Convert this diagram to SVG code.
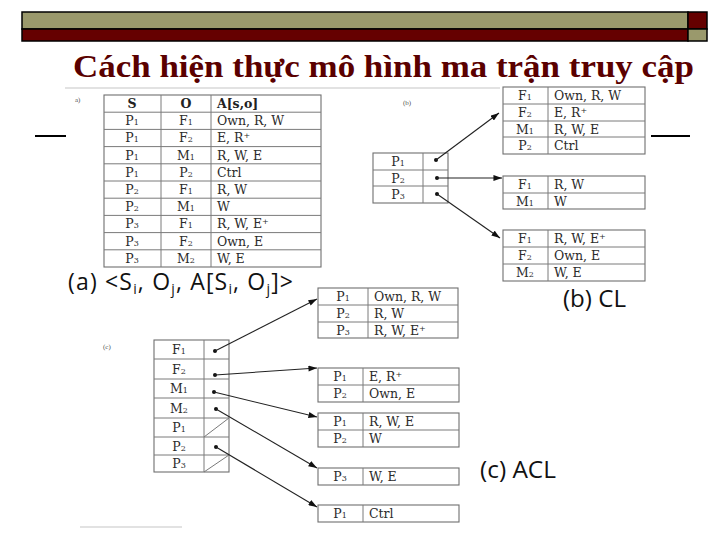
<svg xmlns="http://www.w3.org/2000/svg" width="720" height="540" viewBox="0 0 720 540">
<defs>
<style>
.t{font-family:"DejaVu Serif","Liberation Serif",serif;font-size:12.5px;fill:#2b2b2b}
.th{font-family:"DejaVu Serif","Liberation Serif",serif;font-size:12.5px;fill:#222;font-weight:bold}
.c{text-anchor:middle}
.box{fill:#fff;stroke:#6f6f6f;stroke-width:1.1}
.ln{stroke:#7a7a7a;stroke-width:1}
.lab{font-family:"Open Sans","Noto Sans","DejaVu Sans",sans-serif;font-size:23px;fill:#111}
.sub{font-size:14px}
.sm{font-family:"Liberation Serif",serif;font-size:7px;fill:#555}
.con{stroke:#222;stroke-width:1.1;fill:none}
.dot{fill:#111}
</style>
<marker id="ah" viewBox="0 0 10 7" refX="10" refY="3.5" markerWidth="9" markerHeight="6" markerUnits="userSpaceOnUse" orient="auto"><path d="M0,0 L10,3.5 L0,7 z" fill="#111"/></marker>
</defs>
<rect width="720" height="540" fill="#fff"/>
<g id="header-bar">
<rect x="22" y="12" width="666" height="17" fill="#9a996c" stroke="#000" stroke-width="1.5"/>
<rect x="22" y="29" width="666" height="12" fill="#650000" stroke="#000" stroke-width="1.5"/>
<rect x="688" y="12" width="19" height="17" fill="#650000" stroke="#000" stroke-width="1.5"/>
<rect x="688" y="29" width="19" height="12" fill="#9a996c" stroke="#000" stroke-width="1.5"/>
</g>
<text id="title" x="73" y="77" textLength="621" lengthAdjust="spacingAndGlyphs" style="font-family:'Liberation Serif','Times New Roman',serif;font-size:32px;font-weight:bold;fill:#5a0000">Cách hiện thực mô hình ma trận truy cập</text>
<g id="slide-rule">
<line x1="35" y1="136" x2="66" y2="136" stroke="#000" stroke-width="2"/>
<line x1="651" y1="136" x2="690" y2="136" stroke="#000" stroke-width="2"/>
<line x1="65" y1="88" x2="500" y2="88" stroke="#e2e2e2" stroke-width="2"/>
<line x1="80" y1="527" x2="182" y2="527" stroke="#d8d8d8" stroke-width="1.5"/>
</g>

<g id="table-a">
<text class="sm" x="75" y="102">a)</text>
<rect class="box" x="104" y="95" width="217" height="172"/>
<line class="ln" x1="161" y1="95" x2="161" y2="267"/>
<line class="ln" x1="211" y1="95" x2="211" y2="267"/>
<line class="ln" x1="104" y1="112.2" x2="321" y2="112.2"/>
<line class="ln" x1="104" y1="129.4" x2="321" y2="129.4"/>
<line class="ln" x1="104" y1="146.6" x2="321" y2="146.6"/>
<line class="ln" x1="104" y1="163.8" x2="321" y2="163.8"/>
<line class="ln" x1="104" y1="181" x2="321" y2="181"/>
<line class="ln" x1="104" y1="198.2" x2="321" y2="198.2"/>
<line class="ln" x1="104" y1="215.4" x2="321" y2="215.4"/>
<line class="ln" x1="104" y1="232.6" x2="321" y2="232.6"/>
<line class="ln" x1="104" y1="249.8" x2="321" y2="249.8"/>
<text class="th c" x="132" y="108">S</text><text class="th c" x="186" y="108">O</text><text class="th" x="217" y="108">A[s,o]</text>
<text class="t c" x="132" y="125.2">P<tspan font-size="8">1</tspan></text><text class="t c" x="186" y="125.2">F<tspan font-size="8">1</tspan></text><text class="t" x="217" y="125.2">Own, R, W</text>
<text class="t c" x="132" y="142.4">P<tspan font-size="8">1</tspan></text><text class="t c" x="186" y="142.4">F<tspan font-size="8">2</tspan></text><text class="t" x="217" y="142.4">E, R<tspan font-size="8" baseline-shift="super">+</tspan></text>
<text class="t c" x="132" y="159.6">P<tspan font-size="8">1</tspan></text><text class="t c" x="186" y="159.6">M<tspan font-size="8">1</tspan></text><text class="t" x="217" y="159.6">R, W, E</text>
<text class="t c" x="132" y="176.8">P<tspan font-size="8">1</tspan></text><text class="t c" x="186" y="176.8">P<tspan font-size="8">2</tspan></text><text class="t" x="217" y="176.8">Ctrl</text>
<text class="t c" x="132" y="194">P<tspan font-size="8">2</tspan></text><text class="t c" x="186" y="194">F<tspan font-size="8">1</tspan></text><text class="t" x="217" y="194">R, W</text>
<text class="t c" x="132" y="211.2">P<tspan font-size="8">2</tspan></text><text class="t c" x="186" y="211.2">M<tspan font-size="8">1</tspan></text><text class="t" x="217" y="211.2">W</text>
<text class="t c" x="132" y="228.4">P<tspan font-size="8">3</tspan></text><text class="t c" x="186" y="228.4">F<tspan font-size="8">1</tspan></text><text class="t" x="217" y="228.4">R, W, E<tspan font-size="8" baseline-shift="super">+</tspan></text>
<text class="t c" x="132" y="245.6">P<tspan font-size="8">3</tspan></text><text class="t c" x="186" y="245.6">F<tspan font-size="8">2</tspan></text><text class="t" x="217" y="245.6">Own, E</text>
<text class="t c" x="132" y="262.8">P<tspan font-size="8">3</tspan></text><text class="t c" x="186" y="262.8">M<tspan font-size="8">2</tspan></text><text class="t" x="217" y="262.8">W, E</text>
</g>
<text id="label-a" class="lab" x="68" y="290" textLength="225" lengthAdjust="spacing">(a) &lt;S<tspan class="sub" baseline-shift="-4">i</tspan>, O<tspan class="sub" baseline-shift="-4">j</tspan>, A[S<tspan class="sub" baseline-shift="-4">i</tspan>, O<tspan class="sub" baseline-shift="-4">j</tspan>]&gt;</text>

<g id="cl-subjects">
<text class="sm" x="403" y="105">(b)</text>
<rect class="box" x="373" y="153" width="75" height="50"/>
<line class="ln" x1="423" y1="153" x2="423" y2="203"/>
<line class="ln" x1="373" y1="170" x2="448" y2="170"/>
<line class="ln" x1="373" y1="186" x2="448" y2="186"/>
<text class="t c" x="398" y="166">P<tspan font-size="8">1</tspan></text>
<text class="t c" x="398" y="182.5">P<tspan font-size="8">2</tspan></text>
<text class="t c" x="398" y="199">P<tspan font-size="8">3</tspan></text>
</g>
<g id="cl-p1">
<rect class="box" x="503" y="87" width="142" height="67"/>
<line class="ln" x1="548" y1="87" x2="548" y2="154"/>
<line class="ln" x1="503" y1="104" x2="645" y2="104"/>
<line class="ln" x1="503" y1="121" x2="645" y2="121"/>
<line class="ln" x1="503" y1="137" x2="645" y2="137"/>
<text class="t c" x="525" y="100">F<tspan font-size="8">1</tspan></text><text class="t" x="554" y="100">Own, R, W</text>
<text class="t c" x="525" y="117">F<tspan font-size="8">2</tspan></text><text class="t" x="554" y="117">E, R<tspan font-size="8" baseline-shift="super">+</tspan></text>
<text class="t c" x="525" y="133.5">M<tspan font-size="8">1</tspan></text><text class="t" x="554" y="133.5">R, W, E</text>
<text class="t c" x="525" y="150">P<tspan font-size="8">2</tspan></text><text class="t" x="554" y="150">Ctrl</text>
</g>
<g id="cl-p2">
<rect class="box" x="503" y="176" width="142" height="33"/>
<line class="ln" x1="548" y1="176" x2="548" y2="209"/>
<line class="ln" x1="503" y1="193" x2="645" y2="193"/>
<text class="t c" x="525" y="189">F<tspan font-size="8">1</tspan></text><text class="t" x="554" y="189">R, W</text>
<text class="t c" x="525" y="205.5">M<tspan font-size="8">1</tspan></text><text class="t" x="554" y="205.5">W</text>
</g>
<g id="cl-p3">
<rect class="box" x="503" y="230" width="142" height="51"/>
<line class="ln" x1="548" y1="230" x2="548" y2="281"/>
<line class="ln" x1="503" y1="247" x2="645" y2="247"/>
<line class="ln" x1="503" y1="264" x2="645" y2="264"/>
<text class="t c" x="525" y="243">F<tspan font-size="8">1</tspan></text><text class="t" x="554" y="243">R, W, E<tspan font-size="8" baseline-shift="super">+</tspan></text>
<text class="t c" x="525" y="260">F<tspan font-size="8">2</tspan></text><text class="t" x="554" y="260">Own, E</text>
<text class="t c" x="525" y="277">M<tspan font-size="8">2</tspan></text><text class="t" x="554" y="277">W, E</text>
</g>
<text id="label-b" class="lab" x="563" y="307" textLength="63" lengthAdjust="spacingAndGlyphs">(b) CL</text>

<g id="acl-objects">
<text class="sm" x="103" y="349">(c)</text>
<rect class="box" x="154" y="340" width="75" height="132"/>
<line class="ln" x1="204" y1="340" x2="204" y2="472"/>
<line class="ln" x1="154" y1="359" x2="229" y2="359"/>
<line class="ln" x1="154" y1="379" x2="229" y2="379"/>
<line class="ln" x1="154" y1="398" x2="229" y2="398"/>
<line class="ln" x1="154" y1="418" x2="229" y2="418"/>
<line class="ln" x1="154" y1="437" x2="229" y2="437"/>
<line class="ln" x1="154" y1="455" x2="229" y2="455"/>
<line class="ln" x1="204" y1="437" x2="229" y2="418"/>
<line class="ln" x1="204" y1="472" x2="229" y2="455"/>
<text class="t c" x="179" y="354">F<tspan font-size="8">1</tspan></text>
<text class="t c" x="179" y="373.5">F<tspan font-size="8">2</tspan></text>
<text class="t c" x="179" y="393">M<tspan font-size="8">1</tspan></text>
<text class="t c" x="179" y="412.5">M<tspan font-size="8">2</tspan></text>
<text class="t c" x="179" y="432">P<tspan font-size="8">1</tspan></text>
<text class="t c" x="179" y="450.5">P<tspan font-size="8">2</tspan></text>
<text class="t c" x="179" y="468">P<tspan font-size="8">3</tspan></text>
</g>
<g id="acl-f1">
<rect class="box" x="318" y="288" width="140" height="50"/>
<line class="ln" x1="368" y1="288" x2="368" y2="338"/>
<line class="ln" x1="318" y1="305" x2="458" y2="305"/>
<line class="ln" x1="318" y1="322" x2="458" y2="322"/>
<text class="t c" x="343" y="301">P<tspan font-size="8">1</tspan></text><text class="t" x="374" y="301">Own, R, W</text>
<text class="t c" x="343" y="318">P<tspan font-size="8">2</tspan></text><text class="t" x="374" y="318">R, W</text>
<text class="t c" x="343" y="334.5">P<tspan font-size="8">3</tspan></text><text class="t" x="374" y="334.5">R, W, E<tspan font-size="8" baseline-shift="super">+</tspan></text>
</g>
<g id="acl-f2">
<rect class="box" x="318" y="368" width="141" height="34"/>
<line class="ln" x1="363" y1="368" x2="363" y2="402"/>
<line class="ln" x1="318" y1="385" x2="459" y2="385"/>
<text class="t c" x="340" y="381">P<tspan font-size="8">1</tspan></text><text class="t" x="369" y="381">E, R<tspan font-size="8" baseline-shift="super">+</tspan></text>
<text class="t c" x="340" y="398">P<tspan font-size="8">2</tspan></text><text class="t" x="369" y="398">Own, E</text>
</g>
<g id="acl-m1">
<rect class="box" x="318" y="413" width="141" height="34"/>
<line class="ln" x1="363" y1="413" x2="363" y2="447"/>
<line class="ln" x1="318" y1="430" x2="459" y2="430"/>
<text class="t c" x="340" y="426">P<tspan font-size="8">1</tspan></text><text class="t" x="369" y="426">R, W, E</text>
<text class="t c" x="340" y="443">P<tspan font-size="8">2</tspan></text><text class="t" x="369" y="443">W</text>
</g>
<g id="acl-m2">
<rect class="box" x="318" y="468" width="141" height="17"/>
<line class="ln" x1="363" y1="468" x2="363" y2="485"/>
<text class="t c" x="340" y="481">P<tspan font-size="8">3</tspan></text><text class="t" x="369" y="481">W, E</text>
</g>
<g id="acl-p2">
<rect class="box" x="318" y="505" width="141" height="17"/>
<line class="ln" x1="363" y1="505" x2="363" y2="522"/>
<text class="t c" x="340" y="518">P<tspan font-size="8">1</tspan></text><text class="t" x="369" y="518">Ctrl</text>
</g>
<text id="label-c" class="lab" x="480" y="478" textLength="76" lengthAdjust="spacingAndGlyphs">(c) ACL</text>

<g id="connectors">
<circle class="dot" cx="436" cy="160" r="2"/>
<circle class="dot" cx="437" cy="178" r="2"/>
<circle class="dot" cx="437" cy="194" r="2"/>
<line class="con" x1="436" y1="160" x2="499" y2="113" marker-end="url(#ah)"/>
<line class="con" x1="437" y1="178" x2="502" y2="178" marker-end="url(#ah)"/>
<line class="con" x1="437" y1="194" x2="500" y2="238" marker-end="url(#ah)"/>
<circle class="dot" cx="215" cy="351" r="2"/>
<circle class="dot" cx="215" cy="375" r="2"/>
<circle class="dot" cx="214" cy="392" r="2"/>
<circle class="dot" cx="216" cy="409" r="2"/>
<circle class="dot" cx="216" cy="447" r="2"/>
<line class="con" x1="215" y1="351" x2="317" y2="299" marker-end="url(#ah)"/>
<line class="con" x1="215" y1="375" x2="317" y2="368" marker-end="url(#ah)"/>
<line class="con" x1="214" y1="392" x2="317" y2="417" marker-end="url(#ah)"/>
<line class="con" x1="216" y1="409" x2="317" y2="468" marker-end="url(#ah)"/>
<line class="con" x1="216" y1="447" x2="317" y2="507" marker-end="url(#ah)"/>
</g>
</svg>
